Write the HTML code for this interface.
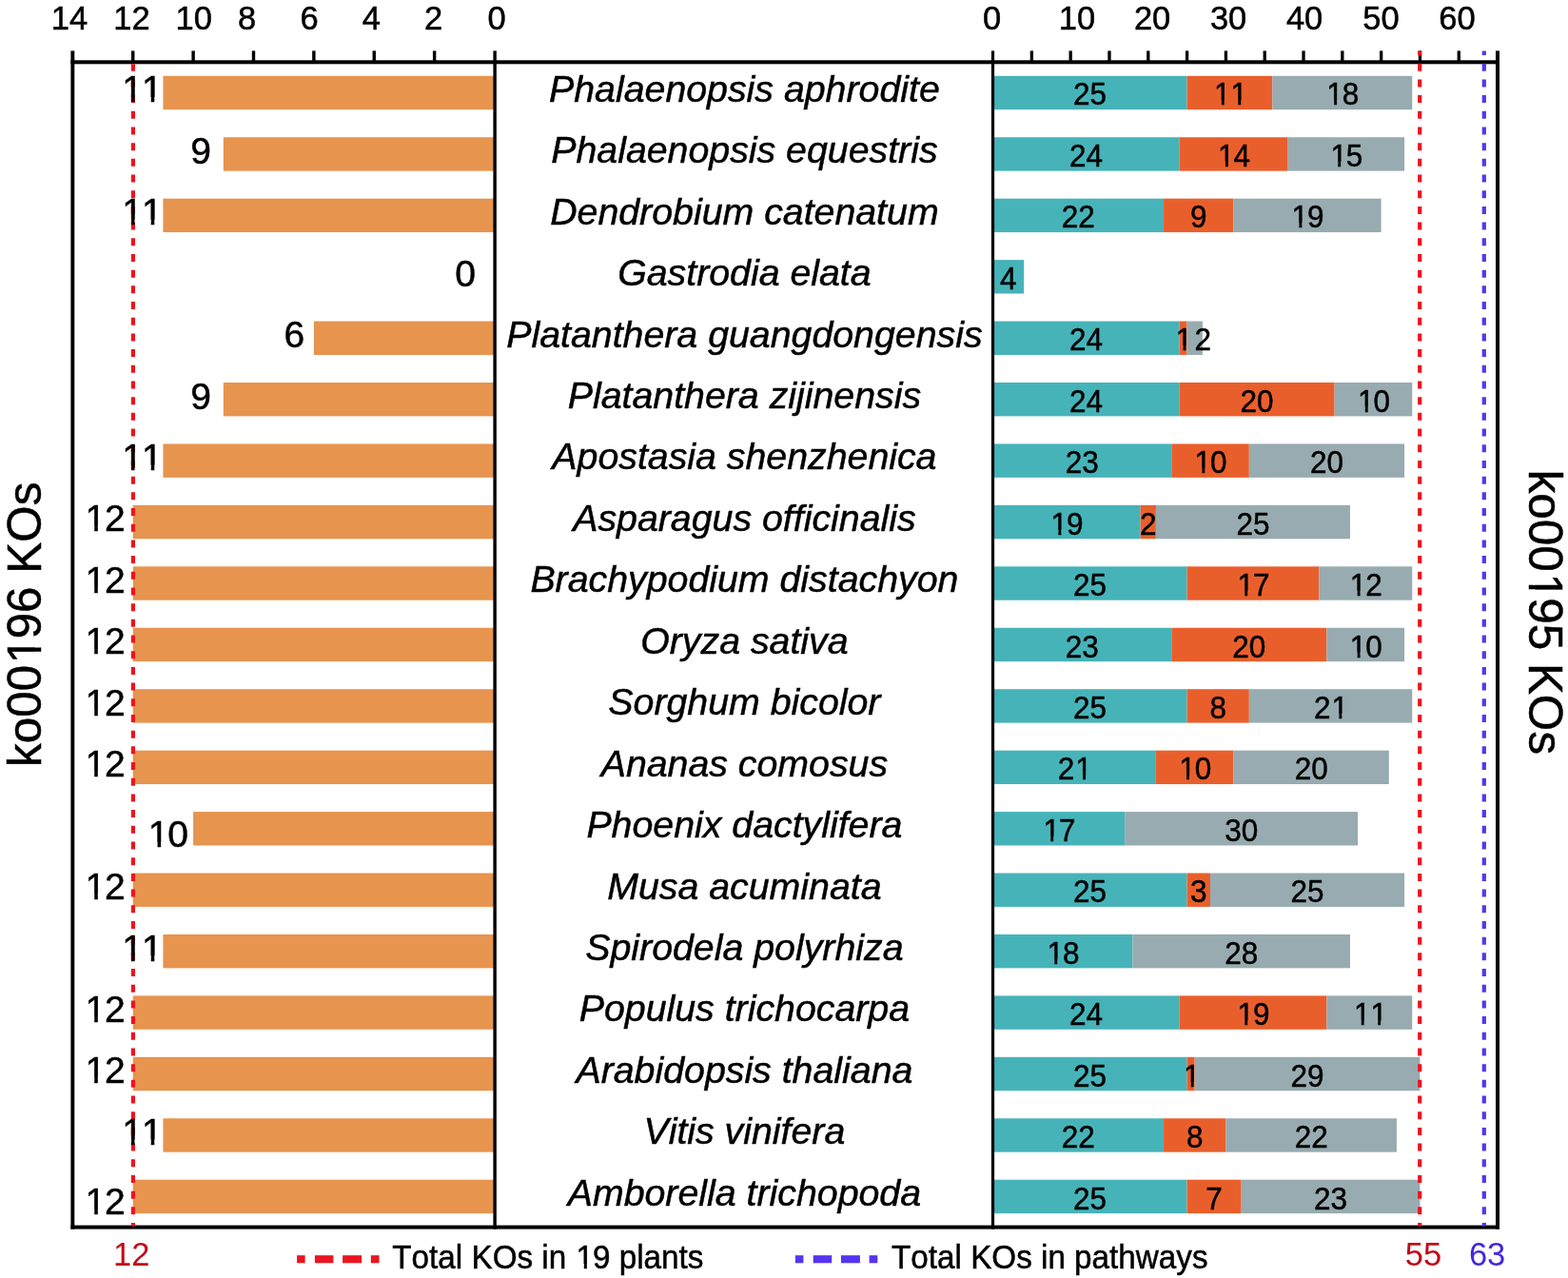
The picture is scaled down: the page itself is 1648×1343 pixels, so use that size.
<!DOCTYPE html>
<html><head><meta charset="utf-8"><title>KO chart</title>
<style>
html,body{margin:0;padding:0;background:#fff;}
svg{display:block;}
text{font-family:'Liberation Sans', Arial, sans-serif;fill:#000;stroke:#000;stroke-width:0.5px;font-kerning:none;}
.sp{font-style:italic;font-size:39.3px;}
.ll{font-size:39.0px;}
.bl{font-size:33.5px;}
.tk{font-size:34.5px;}
.ti{font-size:49.4px;}
.lg{font-size:35.0px;}
.bv{font-size:34.5px;stroke-width:0;}
</style></head>
<body>
<svg width="1648" height="1343" viewBox="0 0 1648 1343">
<defs><clipPath id="c1" clipPathUnits="userSpaceOnUse"><path clip-rule="evenodd" d="M-3000,-3000H5000V5000H-3000ZM-19.23,-5.00H-9.16V2.00H-19.23ZM-6.10,-5.00H9.45V2.00H-6.10ZM12.51,-5.00H19.22V2.00H12.51Z"/></clipPath>
<clipPath id="c2" clipPathUnits="userSpaceOnUse"><path clip-rule="evenodd" d="M-3000,-3000H5000V5000H-3000ZM-19.23,-5.00H-9.16V2.00H-19.23ZM-6.10,-5.00H0.60V2.00H-6.10Z"/></clipPath>
<clipPath id="c4" clipPathUnits="userSpaceOnUse"><path clip-rule="evenodd" d="M-3000,-3000H5000V5000H-3000ZM-19.23,-5.00H-9.16V2.00H-19.23ZM-6.10,-5.00H0.60V2.00H-6.10Z"/></clipPath>
<clipPath id="c5" clipPathUnits="userSpaceOnUse"><path clip-rule="evenodd" d="M-3000,-3000H5000V5000H-3000ZM-19.23,-5.00H-9.16V2.00H-19.23ZM-6.10,-5.00H0.60V2.00H-6.10Z"/></clipPath>
<clipPath id="c8" clipPathUnits="userSpaceOnUse"><path clip-rule="evenodd" d="M-3000,-3000H5000V5000H-3000ZM-19.23,-5.00H-9.16V2.00H-19.23ZM-6.10,-5.00H0.60V2.00H-6.10Z"/></clipPath>
<clipPath id="c11" clipPathUnits="userSpaceOnUse"><path clip-rule="evenodd" d="M-3000,-3000H5000V5000H-3000ZM-9.91,-5.00H0.16V2.00H-9.91ZM3.22,-5.00H9.92V2.00H3.22Z"/></clipPath>
<clipPath id="c15" clipPathUnits="userSpaceOnUse"><path clip-rule="evenodd" d="M-3000,-3000H5000V5000H-3000ZM-19.23,-5.00H-9.16V2.00H-19.23ZM-6.10,-5.00H0.60V2.00H-6.10Z"/></clipPath>
<clipPath id="c17" clipPathUnits="userSpaceOnUse"><path clip-rule="evenodd" d="M-3000,-3000H5000V5000H-3000ZM-19.23,-5.00H-9.16V2.00H-19.23ZM-6.10,-5.00H0.60V2.00H-6.10Z"/></clipPath>
<clipPath id="c19" clipPathUnits="userSpaceOnUse"><path clip-rule="evenodd" d="M-3000,-3000H5000V5000H-3000ZM-19.23,-5.00H-9.16V2.00H-19.23ZM-6.10,-5.00H0.60V2.00H-6.10Z"/></clipPath>
<clipPath id="c23" clipPathUnits="userSpaceOnUse"><path clip-rule="evenodd" d="M-3000,-3000H5000V5000H-3000ZM-19.23,-5.00H-9.16V2.00H-19.23ZM-6.10,-5.00H0.60V2.00H-6.10Z"/></clipPath>
<clipPath id="c24" clipPathUnits="userSpaceOnUse"><path clip-rule="evenodd" d="M-3000,-3000H5000V5000H-3000ZM-19.23,-5.00H-9.16V2.00H-19.23ZM-6.10,-5.00H0.60V2.00H-6.10Z"/></clipPath>
<clipPath id="c27" clipPathUnits="userSpaceOnUse"><path clip-rule="evenodd" d="M-3000,-3000H5000V5000H-3000ZM-19.23,-5.00H-9.16V2.00H-19.23ZM-6.10,-5.00H0.60V2.00H-6.10Z"/></clipPath>
<clipPath id="c30" clipPathUnits="userSpaceOnUse"><path clip-rule="evenodd" d="M-3000,-3000H5000V5000H-3000ZM-0.62,-5.00H9.45V2.00H-0.62ZM12.51,-5.00H19.22V2.00H12.51Z"/></clipPath>
<clipPath id="c31" clipPathUnits="userSpaceOnUse"><path clip-rule="evenodd" d="M-3000,-3000H5000V5000H-3000ZM-0.62,-5.00H9.45V2.00H-0.62ZM12.51,-5.00H19.22V2.00H12.51Z"/></clipPath>
<clipPath id="c32" clipPathUnits="userSpaceOnUse"><path clip-rule="evenodd" d="M-3000,-3000H5000V5000H-3000ZM-19.23,-5.00H-9.16V2.00H-19.23ZM-6.10,-5.00H0.60V2.00H-6.10Z"/></clipPath>
<clipPath id="c34" clipPathUnits="userSpaceOnUse"><path clip-rule="evenodd" d="M-3000,-3000H5000V5000H-3000ZM-19.23,-5.00H-9.16V2.00H-19.23ZM-6.10,-5.00H0.60V2.00H-6.10Z"/></clipPath>
<clipPath id="c39" clipPathUnits="userSpaceOnUse"><path clip-rule="evenodd" d="M-3000,-3000H5000V5000H-3000ZM-19.23,-5.00H-9.16V2.00H-19.23ZM-6.10,-5.00H0.60V2.00H-6.10Z"/></clipPath>
<clipPath id="c42" clipPathUnits="userSpaceOnUse"><path clip-rule="evenodd" d="M-3000,-3000H5000V5000H-3000ZM-19.23,-5.00H-9.16V2.00H-19.23ZM-6.10,-5.00H0.60V2.00H-6.10Z"/></clipPath>
<clipPath id="c43" clipPathUnits="userSpaceOnUse"><path clip-rule="evenodd" d="M-3000,-3000H5000V5000H-3000ZM-19.23,-5.00H-9.16V2.00H-19.23ZM-6.10,-5.00H9.45V2.00H-6.10ZM12.51,-5.00H19.22V2.00H12.51Z"/></clipPath>
<clipPath id="c45" clipPathUnits="userSpaceOnUse"><path clip-rule="evenodd" d="M-3000,-3000H5000V5000H-3000ZM-9.91,-5.00H0.16V2.00H-9.91ZM3.22,-5.00H9.92V2.00H3.22Z"/></clipPath>
<clipPath id="c53" clipPathUnits="userSpaceOnUse"><path clip-rule="evenodd" d="M-3000,-3000H5000V5000H-3000ZM126.31,101.99H137.94V109.40H126.31ZM141.49,101.99H158.73V109.40H141.49ZM162.28,101.99H169.99V109.40H162.28Z"/></clipPath>
<clipPath id="c55" clipPathUnits="userSpaceOnUse"><path clip-rule="evenodd" d="M-3000,-3000H5000V5000H-3000ZM126.31,230.87H137.94V238.28H126.31ZM141.49,230.87H158.73V238.28H141.49ZM162.28,230.87H169.99V238.28H162.28Z"/></clipPath>
<clipPath id="c59" clipPathUnits="userSpaceOnUse"><path clip-rule="evenodd" d="M-3000,-3000H5000V5000H-3000ZM126.31,488.63H137.94V496.04H126.31ZM141.49,488.63H158.73V496.04H141.49ZM162.28,488.63H169.99V496.04H162.28Z"/></clipPath>
<clipPath id="c60" clipPathUnits="userSpaceOnUse"><path clip-rule="evenodd" d="M-3000,-3000H5000V5000H-3000ZM87.61,553.07H99.24V560.48H87.61ZM102.79,553.07H110.50V560.48H102.79Z"/></clipPath>
<clipPath id="c61" clipPathUnits="userSpaceOnUse"><path clip-rule="evenodd" d="M-3000,-3000H5000V5000H-3000ZM87.61,617.51H99.24V624.92H87.61ZM102.79,617.51H110.50V624.92H102.79Z"/></clipPath>
<clipPath id="c62" clipPathUnits="userSpaceOnUse"><path clip-rule="evenodd" d="M-3000,-3000H5000V5000H-3000ZM87.61,681.95H99.24V689.36H87.61ZM102.79,681.95H110.50V689.36H102.79Z"/></clipPath>
<clipPath id="c63" clipPathUnits="userSpaceOnUse"><path clip-rule="evenodd" d="M-3000,-3000H5000V5000H-3000ZM87.61,746.39H99.24V753.80H87.61ZM102.79,746.39H110.50V753.80H102.79Z"/></clipPath>
<clipPath id="c64" clipPathUnits="userSpaceOnUse"><path clip-rule="evenodd" d="M-3000,-3000H5000V5000H-3000ZM87.61,810.83H99.24V818.24H87.61ZM102.79,810.83H110.50V818.24H102.79Z"/></clipPath>
<clipPath id="c65" clipPathUnits="userSpaceOnUse"><path clip-rule="evenodd" d="M-3000,-3000H5000V5000H-3000ZM153.91,884.79H165.54V892.20H153.91ZM169.09,884.79H176.80V892.20H169.09Z"/></clipPath>
<clipPath id="c66" clipPathUnits="userSpaceOnUse"><path clip-rule="evenodd" d="M-3000,-3000H5000V5000H-3000ZM87.61,939.71H99.24V947.12H87.61ZM102.79,939.71H110.50V947.12H102.79Z"/></clipPath>
<clipPath id="c67" clipPathUnits="userSpaceOnUse"><path clip-rule="evenodd" d="M-3000,-3000H5000V5000H-3000ZM126.31,1004.15H137.94V1011.56H126.31ZM141.49,1004.15H158.73V1011.56H141.49ZM162.28,1004.15H169.99V1011.56H162.28Z"/></clipPath>
<clipPath id="c68" clipPathUnits="userSpaceOnUse"><path clip-rule="evenodd" d="M-3000,-3000H5000V5000H-3000ZM87.61,1068.59H99.24V1076.00H87.61ZM102.79,1068.59H110.50V1076.00H102.79Z"/></clipPath>
<clipPath id="c69" clipPathUnits="userSpaceOnUse"><path clip-rule="evenodd" d="M-3000,-3000H5000V5000H-3000ZM87.61,1133.03H99.24V1140.44H87.61ZM102.79,1133.03H110.50V1140.44H102.79Z"/></clipPath>
<clipPath id="c70" clipPathUnits="userSpaceOnUse"><path clip-rule="evenodd" d="M-3000,-3000H5000V5000H-3000ZM126.31,1197.47H137.94V1204.88H126.31ZM141.49,1197.47H158.73V1204.88H141.49ZM162.28,1197.47H169.99V1204.88H162.28Z"/></clipPath>
<clipPath id="c71" clipPathUnits="userSpaceOnUse"><path clip-rule="evenodd" d="M-3000,-3000H5000V5000H-3000ZM87.61,1270.59H99.24V1278.00H87.61ZM102.79,1270.59H110.50V1278.00H102.79Z"/></clipPath>
<clipPath id="c106" clipPathUnits="userSpaceOnUse"><path clip-rule="evenodd" d="M-3000,-3000H5000V5000H-3000ZM-43.15,-6.19H-28.57V2.00H-43.15ZM-24.10,-6.19H-14.48V2.00H-24.10Z"/></clipPath>
<clipPath id="c107" clipPathUnits="userSpaceOnUse"><path clip-rule="evenodd" d="M-3000,-3000H5000V5000H-3000ZM-43.15,-6.19H-28.57V2.00H-43.15ZM-24.10,-6.19H-14.48V2.00H-24.10Z"/></clipPath>
<clipPath id="c108" clipPathUnits="userSpaceOnUse"><path clip-rule="evenodd" d="M-3000,-3000H5000V5000H-3000ZM201.63,-5.11H212.12V2.00H201.63ZM215.31,-5.11H222.29V2.00H215.31Z"/></clipPath></defs>
<rect width="1648" height="1343" fill="#fff"/>
<rect x="171.41" y="79.80" width="348.59" height="35.4" fill="#E6944E"/>
<rect x="1043.50" y="79.80" width="204.05" height="35.4" fill="#46B3B9"/>
<rect x="1247.55" y="79.80" width="89.78" height="35.4" fill="#E95F2C"/>
<rect x="1337.33" y="79.80" width="146.92" height="35.4" fill="#97ABB0"/>
<rect x="234.79" y="144.24" width="285.21" height="35.4" fill="#E6944E"/>
<rect x="1043.50" y="144.24" width="195.89" height="35.4" fill="#46B3B9"/>
<rect x="1239.39" y="144.24" width="114.27" height="35.4" fill="#E95F2C"/>
<rect x="1353.66" y="144.24" width="122.43" height="35.4" fill="#97ABB0"/>
<rect x="171.41" y="208.68" width="348.59" height="35.4" fill="#E6944E"/>
<rect x="1043.50" y="208.68" width="179.56" height="35.4" fill="#46B3B9"/>
<rect x="1223.06" y="208.68" width="73.46" height="35.4" fill="#E95F2C"/>
<rect x="1296.52" y="208.68" width="155.08" height="35.4" fill="#97ABB0"/>
<rect x="1043.50" y="273.12" width="32.65" height="35.4" fill="#46B3B9"/>
<rect x="329.86" y="337.56" width="190.14" height="35.4" fill="#E6944E"/>
<rect x="1043.50" y="337.56" width="195.89" height="35.4" fill="#46B3B9"/>
<rect x="1239.39" y="337.56" width="8.16" height="35.4" fill="#E95F2C"/>
<rect x="1247.55" y="337.56" width="16.32" height="35.4" fill="#97ABB0"/>
<rect x="234.79" y="402.00" width="285.21" height="35.4" fill="#E6944E"/>
<rect x="1043.50" y="402.00" width="195.89" height="35.4" fill="#46B3B9"/>
<rect x="1239.39" y="402.00" width="163.24" height="35.4" fill="#E95F2C"/>
<rect x="1402.63" y="402.00" width="81.62" height="35.4" fill="#97ABB0"/>
<rect x="171.41" y="466.44" width="348.59" height="35.4" fill="#E6944E"/>
<rect x="1043.50" y="466.44" width="187.73" height="35.4" fill="#46B3B9"/>
<rect x="1231.23" y="466.44" width="81.62" height="35.4" fill="#E95F2C"/>
<rect x="1312.85" y="466.44" width="163.24" height="35.4" fill="#97ABB0"/>
<rect x="139.72" y="530.88" width="380.28" height="35.4" fill="#E6944E"/>
<rect x="1043.50" y="530.88" width="155.08" height="35.4" fill="#46B3B9"/>
<rect x="1198.58" y="530.88" width="16.32" height="35.4" fill="#E95F2C"/>
<rect x="1214.90" y="530.88" width="204.05" height="35.4" fill="#97ABB0"/>
<rect x="139.72" y="595.32" width="380.28" height="35.4" fill="#E6944E"/>
<rect x="1043.50" y="595.32" width="204.05" height="35.4" fill="#46B3B9"/>
<rect x="1247.55" y="595.32" width="138.75" height="35.4" fill="#E95F2C"/>
<rect x="1386.30" y="595.32" width="97.94" height="35.4" fill="#97ABB0"/>
<rect x="139.72" y="659.76" width="380.28" height="35.4" fill="#E6944E"/>
<rect x="1043.50" y="659.76" width="187.73" height="35.4" fill="#46B3B9"/>
<rect x="1231.23" y="659.76" width="163.24" height="35.4" fill="#E95F2C"/>
<rect x="1394.47" y="659.76" width="81.62" height="35.4" fill="#97ABB0"/>
<rect x="139.72" y="724.20" width="380.28" height="35.4" fill="#E6944E"/>
<rect x="1043.50" y="724.20" width="204.05" height="35.4" fill="#46B3B9"/>
<rect x="1247.55" y="724.20" width="65.30" height="35.4" fill="#E95F2C"/>
<rect x="1312.85" y="724.20" width="171.40" height="35.4" fill="#97ABB0"/>
<rect x="139.72" y="788.64" width="380.28" height="35.4" fill="#E6944E"/>
<rect x="1043.50" y="788.64" width="171.40" height="35.4" fill="#46B3B9"/>
<rect x="1214.90" y="788.64" width="81.62" height="35.4" fill="#E95F2C"/>
<rect x="1296.52" y="788.64" width="163.24" height="35.4" fill="#97ABB0"/>
<rect x="203.10" y="853.08" width="316.90" height="35.4" fill="#E6944E"/>
<rect x="1043.50" y="853.08" width="138.75" height="35.4" fill="#46B3B9"/>
<rect x="1182.25" y="853.08" width="244.86" height="35.4" fill="#97ABB0"/>
<rect x="139.72" y="917.52" width="380.28" height="35.4" fill="#E6944E"/>
<rect x="1043.50" y="917.52" width="204.05" height="35.4" fill="#46B3B9"/>
<rect x="1247.55" y="917.52" width="24.49" height="35.4" fill="#E95F2C"/>
<rect x="1272.04" y="917.52" width="204.05" height="35.4" fill="#97ABB0"/>
<rect x="171.41" y="981.96" width="348.59" height="35.4" fill="#E6944E"/>
<rect x="1043.50" y="981.96" width="146.92" height="35.4" fill="#46B3B9"/>
<rect x="1190.42" y="981.96" width="228.54" height="35.4" fill="#97ABB0"/>
<rect x="139.72" y="1046.40" width="380.28" height="35.4" fill="#E6944E"/>
<rect x="1043.50" y="1046.40" width="195.89" height="35.4" fill="#46B3B9"/>
<rect x="1239.39" y="1046.40" width="155.08" height="35.4" fill="#E95F2C"/>
<rect x="1394.47" y="1046.40" width="89.78" height="35.4" fill="#97ABB0"/>
<rect x="139.72" y="1110.84" width="380.28" height="35.4" fill="#E6944E"/>
<rect x="1043.50" y="1110.84" width="204.05" height="35.4" fill="#46B3B9"/>
<rect x="1247.55" y="1110.84" width="8.16" height="35.4" fill="#E95F2C"/>
<rect x="1255.71" y="1110.84" width="236.70" height="35.4" fill="#97ABB0"/>
<rect x="171.41" y="1175.28" width="348.59" height="35.4" fill="#E6944E"/>
<rect x="1043.50" y="1175.28" width="179.56" height="35.4" fill="#46B3B9"/>
<rect x="1223.06" y="1175.28" width="65.30" height="35.4" fill="#E95F2C"/>
<rect x="1288.36" y="1175.28" width="179.56" height="35.4" fill="#97ABB0"/>
<rect x="139.72" y="1239.72" width="380.28" height="35.4" fill="#E6944E"/>
<rect x="1043.50" y="1239.72" width="204.05" height="35.4" fill="#46B3B9"/>
<rect x="1247.55" y="1239.72" width="57.13" height="35.4" fill="#E95F2C"/>
<rect x="1304.68" y="1239.72" width="187.73" height="35.4" fill="#97ABB0"/>
<rect x="74.4" y="63.3" width="1501.6" height="4" fill="#000"/>
<rect x="74.4" y="1287.6" width="1501.6" height="4" fill="#000"/>
<rect x="74.4" y="53.4" width="3.9" height="1238.2" fill="#000"/>
<rect x="1572.0" y="53.4" width="4" height="1238.2" fill="#000"/>
<rect x="518.4" y="53.4" width="3.4" height="1238.2" fill="#000"/>
<rect x="1041.9" y="53.4" width="3.2" height="1238.2" fill="#000"/>
<rect x="138.02" y="53.4" width="3.4" height="11" fill="#000"/>
<rect x="201.40" y="53.4" width="3.4" height="11" fill="#000"/>
<rect x="264.78" y="53.4" width="3.4" height="11" fill="#000"/>
<rect x="328.16" y="53.4" width="3.4" height="11" fill="#000"/>
<rect x="391.54" y="53.4" width="3.4" height="11" fill="#000"/>
<rect x="454.92" y="53.4" width="3.4" height="11" fill="#000"/>
<rect x="1082.71" y="53.4" width="3.3" height="11" fill="#000"/>
<rect x="1123.52" y="53.4" width="3.3" height="11" fill="#000"/>
<rect x="1164.33" y="53.4" width="3.3" height="11" fill="#000"/>
<rect x="1205.14" y="53.4" width="3.3" height="11" fill="#000"/>
<rect x="1245.95" y="53.4" width="3.3" height="11" fill="#000"/>
<rect x="1286.76" y="53.4" width="3.3" height="11" fill="#000"/>
<rect x="1327.57" y="53.4" width="3.3" height="11" fill="#000"/>
<rect x="1368.38" y="53.4" width="3.3" height="11" fill="#000"/>
<rect x="1409.19" y="53.4" width="3.3" height="11" fill="#000"/>
<rect x="1450.00" y="53.4" width="3.3" height="11" fill="#000"/>
<rect x="1490.81" y="53.4" width="3.3" height="11" fill="#000"/>
<rect x="1531.62" y="53.4" width="3.3" height="11" fill="#000"/>
<line x1="139.9" y1="67.3" x2="139.9" y2="1288.5" stroke="#EA1520" stroke-width="4.2" stroke-dasharray="8 8.69" stroke-dashoffset="0.61"/>
<line x1="1492.2" y1="53.4" x2="1492.2" y2="1288.5" stroke="#EA1520" stroke-width="4.2" stroke-dasharray="8 8.69" stroke-dashoffset="3.40"/>
<line x1="1559.8" y1="53.4" x2="1559.8" y2="1288.5" stroke="#5634F0" stroke-width="4.2" stroke-dasharray="8 8.69" stroke-dashoffset="3.40"/>
<rect x="312.10" y="1319.2" width="8.5" height="8.1" fill="#EA1520"/>
<rect x="330.90" y="1319.2" width="19.5" height="8.1" fill="#EA1520"/>
<rect x="360.10" y="1319.2" width="20" height="8.1" fill="#EA1520"/>
<rect x="389.80" y="1319.2" width="8.7" height="8.1" fill="#EA1520"/>
<rect x="835.90" y="1319.2" width="8.5" height="8.1" fill="#5634F0"/>
<rect x="854.70" y="1319.2" width="19.5" height="8.1" fill="#5634F0"/>
<rect x="883.90" y="1319.2" width="20" height="8.1" fill="#5634F0"/>
<rect x="913.60" y="1319.2" width="8.7" height="8.1" fill="#5634F0"/>
<text class="bl" text-anchor="middle" transform="translate(1145.53,110.20) scale(0.94,1)">25</text>
<text class="bl" x="-18.63" y="0" dx="1.10 0.00" transform="translate(1292.44,110.20) scale(0.94,1)" clip-path="url(#c1)">11</text>
<text class="bl" x="-18.63" y="0" dx="1.10 -1.10" transform="translate(1410.79,110.20) scale(0.94,1)" clip-path="url(#c2)">18</text>
<text class="bl" text-anchor="middle" transform="translate(1141.44,174.68) scale(0.94,1)">24</text>
<text class="bl" x="-18.63" y="0" dx="1.10 -1.10" transform="translate(1296.52,174.68) scale(0.94,1)" clip-path="url(#c4)">14</text>
<text class="bl" x="-18.63" y="0" dx="1.10 -1.10" transform="translate(1414.87,174.68) scale(0.94,1)" clip-path="url(#c5)">15</text>
<text class="bl" text-anchor="middle" transform="translate(1133.28,239.16) scale(0.94,1)">22</text>
<text class="bl" text-anchor="middle" transform="translate(1259.79,239.16) scale(0.94,1)">9</text>
<text class="bl" x="-18.63" y="0" dx="1.10 -1.10" transform="translate(1374.06,239.16) scale(0.94,1)" clip-path="url(#c8)">19</text>
<text class="bl" text-anchor="middle" transform="translate(1059.82,303.64) scale(0.94,1)">4</text>
<text class="bl" text-anchor="middle" transform="translate(1141.44,368.12) scale(0.94,1)">24</text>
<text class="bl" x="-9.31" y="0" dx="1.10" transform="translate(1243.47,368.12) scale(0.94,1)" clip-path="url(#c11)">1</text>
<text class="bl" text-anchor="middle" transform="translate(1264.30,368.12) scale(0.94,1)">2</text>
<text class="bl" text-anchor="middle" transform="translate(1141.44,432.60) scale(0.94,1)">24</text>
<text class="bl" text-anchor="middle" transform="translate(1321.01,432.60) scale(0.94,1)">20</text>
<text class="bl" x="-18.63" y="0" dx="1.10 -1.10" transform="translate(1443.44,432.60) scale(0.94,1)" clip-path="url(#c15)">10</text>
<text class="bl" text-anchor="middle" transform="translate(1137.36,497.08) scale(0.94,1)">23</text>
<text class="bl" x="-18.63" y="0" dx="1.10 -1.10" transform="translate(1272.04,497.08) scale(0.94,1)" clip-path="url(#c17)">10</text>
<text class="bl" text-anchor="middle" transform="translate(1394.47,497.08) scale(0.94,1)">20</text>
<text class="bl" x="-18.63" y="0" dx="1.10 -1.10" transform="translate(1121.04,561.56) scale(0.94,1)" clip-path="url(#c19)">19</text>
<text class="bl" text-anchor="middle" transform="translate(1206.74,561.56) scale(0.94,1)">2</text>
<text class="bl" text-anchor="middle" transform="translate(1316.93,561.56) scale(0.94,1)">25</text>
<text class="bl" text-anchor="middle" transform="translate(1145.53,626.04) scale(0.94,1)">25</text>
<text class="bl" x="-18.63" y="0" dx="1.10 -1.10" transform="translate(1316.93,626.04) scale(0.94,1)" clip-path="url(#c23)">17</text>
<text class="bl" x="-18.63" y="0" dx="1.10 -1.10" transform="translate(1435.28,626.04) scale(0.94,1)" clip-path="url(#c24)">12</text>
<text class="bl" text-anchor="middle" transform="translate(1137.36,690.52) scale(0.94,1)">23</text>
<text class="bl" text-anchor="middle" transform="translate(1312.85,690.52) scale(0.94,1)">20</text>
<text class="bl" x="-18.63" y="0" dx="1.10 -1.10" transform="translate(1435.28,690.52) scale(0.94,1)" clip-path="url(#c27)">10</text>
<text class="bl" text-anchor="middle" transform="translate(1145.53,755.00) scale(0.94,1)">25</text>
<text class="bl" text-anchor="middle" transform="translate(1280.20,755.00) scale(0.94,1)">8</text>
<text class="bl" x="-18.63" y="0" dx="0.00 1.10" transform="translate(1398.55,755.00) scale(0.94,1)" clip-path="url(#c30)">21</text>
<text class="bl" x="-18.63" y="0" dx="0.00 1.10" transform="translate(1129.20,819.48) scale(0.94,1)" clip-path="url(#c31)">21</text>
<text class="bl" x="-18.63" y="0" dx="1.10 -1.10" transform="translate(1255.71,819.48) scale(0.94,1)" clip-path="url(#c32)">10</text>
<text class="bl" text-anchor="middle" transform="translate(1378.14,819.48) scale(0.94,1)">20</text>
<text class="bl" x="-18.63" y="0" dx="1.10 -1.10" transform="translate(1112.88,883.96) scale(0.94,1)" clip-path="url(#c34)">17</text>
<text class="bl" text-anchor="middle" transform="translate(1304.68,883.96) scale(0.94,1)">30</text>
<text class="bl" text-anchor="middle" transform="translate(1145.53,948.44) scale(0.94,1)">25</text>
<text class="bl" text-anchor="middle" transform="translate(1259.79,948.44) scale(0.94,1)">3</text>
<text class="bl" text-anchor="middle" transform="translate(1374.06,948.44) scale(0.94,1)">25</text>
<text class="bl" x="-18.63" y="0" dx="1.10 -1.10" transform="translate(1116.96,1012.92) scale(0.94,1)" clip-path="url(#c39)">18</text>
<text class="bl" text-anchor="middle" transform="translate(1304.68,1012.92) scale(0.94,1)">28</text>
<text class="bl" text-anchor="middle" transform="translate(1141.44,1077.40) scale(0.94,1)">24</text>
<text class="bl" x="-18.63" y="0" dx="1.10 -1.10" transform="translate(1316.93,1077.40) scale(0.94,1)" clip-path="url(#c42)">19</text>
<text class="bl" x="-18.63" y="0" dx="1.10 0.00" transform="translate(1439.36,1077.40) scale(0.94,1)" clip-path="url(#c43)">11</text>
<text class="bl" text-anchor="middle" transform="translate(1145.53,1141.88) scale(0.94,1)">25</text>
<text class="bl" x="-9.31" y="0" dx="1.10" transform="translate(1251.63,1141.88) scale(0.94,1)" clip-path="url(#c45)">1</text>
<text class="bl" text-anchor="middle" transform="translate(1374.06,1141.88) scale(0.94,1)">29</text>
<text class="bl" text-anchor="middle" transform="translate(1133.28,1206.36) scale(0.94,1)">22</text>
<text class="bl" text-anchor="middle" transform="translate(1255.71,1206.36) scale(0.94,1)">8</text>
<text class="bl" text-anchor="middle" transform="translate(1378.14,1206.36) scale(0.94,1)">22</text>
<text class="bl" text-anchor="middle" transform="translate(1145.53,1270.84) scale(0.94,1)">25</text>
<text class="bl" text-anchor="middle" transform="translate(1276.12,1270.84) scale(0.94,1)">7</text>
<text class="bl" text-anchor="middle" transform="translate(1398.55,1270.84) scale(0.94,1)">23</text>
<text class="ll" x="126.01" y="107.40" dx="2.18 -0.90" clip-path="url(#c53)">11</text>
<text class="ll" x="221.90" y="171.84" text-anchor="end">9</text>
<text class="ll" x="126.01" y="236.28" dx="2.18 -0.90" clip-path="url(#c55)">11</text>
<text class="ll" x="499.90" y="300.72" text-anchor="end">0</text>
<text class="ll" x="320.30" y="365.16" text-anchor="end">6</text>
<text class="ll" x="221.90" y="429.60" text-anchor="end">9</text>
<text class="ll" x="126.01" y="494.04" dx="2.18 -0.90" clip-path="url(#c59)">11</text>
<text class="ll" x="88.21" y="558.48" dx="1.28 -1.28" clip-path="url(#c60)">12</text>
<text class="ll" x="88.21" y="622.92" dx="1.28 -1.28" clip-path="url(#c61)">12</text>
<text class="ll" x="88.21" y="687.36" dx="1.28 -1.28" clip-path="url(#c62)">12</text>
<text class="ll" x="88.21" y="751.80" dx="1.28 -1.28" clip-path="url(#c63)">12</text>
<text class="ll" x="88.21" y="816.24" dx="1.28 -1.28" clip-path="url(#c64)">12</text>
<text class="ll" x="154.51" y="890.20" dx="1.28 -1.28" clip-path="url(#c65)">10</text>
<text class="ll" x="88.21" y="945.12" dx="1.28 -1.28" clip-path="url(#c66)">12</text>
<text class="ll" x="126.01" y="1009.56" dx="2.18 -0.90" clip-path="url(#c67)">11</text>
<text class="ll" x="88.21" y="1074.00" dx="1.28 -1.28" clip-path="url(#c68)">12</text>
<text class="ll" x="88.21" y="1138.44" dx="1.28 -1.28" clip-path="url(#c69)">12</text>
<text class="ll" x="126.01" y="1202.88" dx="2.18 -0.90" clip-path="url(#c70)">11</text>
<text class="ll" x="88.21" y="1276.00" dx="1.28 -1.28" clip-path="url(#c71)">12</text>
<text class="sp" x="782.40" y="106.80" text-anchor="middle">Phalaenopsis aphrodite</text>
<text class="sp" x="782.40" y="171.24" text-anchor="middle">Phalaenopsis equestris</text>
<text class="sp" x="782.40" y="235.68" text-anchor="middle">Dendrobium catenatum</text>
<text class="sp" x="782.40" y="300.12" text-anchor="middle">Gastrodia elata</text>
<text class="sp" x="782.40" y="364.56" text-anchor="middle">Platanthera guangdongensis</text>
<text class="sp" x="782.40" y="429.00" text-anchor="middle">Platanthera zijinensis</text>
<text class="sp" x="782.40" y="493.44" text-anchor="middle">Apostasia shenzhenica</text>
<text class="sp" x="782.40" y="557.88" text-anchor="middle">Asparagus officinalis</text>
<text class="sp" x="782.40" y="622.32" text-anchor="middle">Brachypodium distachyon</text>
<text class="sp" x="782.40" y="686.76" text-anchor="middle">Oryza sativa</text>
<text class="sp" x="782.40" y="751.20" text-anchor="middle">Sorghum bicolor</text>
<text class="sp" x="782.40" y="815.64" text-anchor="middle">Ananas comosus</text>
<text class="sp" x="782.40" y="880.08" text-anchor="middle">Phoenix dactylifera</text>
<text class="sp" x="782.40" y="944.52" text-anchor="middle">Musa acuminata</text>
<text class="sp" x="782.40" y="1008.96" text-anchor="middle">Spirodela polyrhiza</text>
<text class="sp" x="782.40" y="1073.40" text-anchor="middle">Populus trichocarpa</text>
<text class="sp" x="782.40" y="1137.84" text-anchor="middle">Arabidopsis thaliana</text>
<text class="sp" x="782.40" y="1202.28" text-anchor="middle">Vitis vinifera</text>
<text class="sp" x="782.40" y="1266.72" text-anchor="middle">Amborella trichopoda</text>
<text class="tk" x="72.90" y="30.80" text-anchor="middle">14</text>
<text class="tk" x="138.50" y="30.80" text-anchor="middle">12</text>
<text class="tk" x="203.70" y="30.80" text-anchor="middle">10</text>
<text class="tk" x="259.50" y="30.80" text-anchor="middle">8</text>
<text class="tk" x="325.00" y="30.80" text-anchor="middle">6</text>
<text class="tk" x="390.30" y="30.80" text-anchor="middle">4</text>
<text class="tk" x="455.60" y="30.80" text-anchor="middle">2</text>
<text class="tk" x="522.00" y="30.80" text-anchor="middle">0</text>
<text class="tk" x="1042.60" y="30.80" text-anchor="middle">0</text>
<text class="tk" x="1132.00" y="30.80" text-anchor="middle">10</text>
<text class="tk" x="1211.10" y="30.80" text-anchor="middle">20</text>
<text class="tk" x="1291.10" y="30.80" text-anchor="middle">30</text>
<text class="tk" x="1371.10" y="30.80" text-anchor="middle">40</text>
<text class="tk" x="1451.40" y="30.80" text-anchor="middle">50</text>
<text class="tk" x="1531.50" y="30.80" text-anchor="middle">60</text>
<text class="ti" x="-149.65" y="0" dx="0.00 0.00 0.00 0.00 1.62 -1.62 0.00 0.00 0.00 0.00 0.00" transform="translate(43.10,656.30) rotate(-90)" clip-path="url(#c106)">ko00196 KOs</text>
<text class="ti" x="-149.65" y="0" dx="0.00 0.00 0.00 0.00 1.62 -1.62 0.00 0.00 0.00 0.00 0.00" transform="translate(1607.10,643.30) rotate(90)" clip-path="url(#c107)">ko00195 KOs</text>
<text class="lg" x="0.00" y="0" dx="0.00 0.00 0.00 0.00 0.00 0.00 0.00 0.00 0.00 0.00 0.00 0.00 0.00 1.15 -1.15 0.00 0.00 0.00 0.00 0.00 0.00 0.00" transform="translate(412.30,1333.10) scale(0.95,1)" clip-path="url(#c108)">Total KOs in 19 plants</text>
<text class="lg" text-anchor="start" transform="translate(937.00,1333.10) scale(0.95,1)">Total KOs in pathways</text>
<text class="bv" x="138.30" y="1330.00" text-anchor="middle" style="fill:#C00A18;stroke:#C00A18">12</text>
<text class="bv" x="1495.90" y="1329.70" text-anchor="middle" style="fill:#C00A18;stroke:#C00A18">55</text>
<text class="bv" x="1563.10" y="1329.70" text-anchor="middle" style="fill:#4626DA;stroke:#4626DA">63</text>
</svg>
</body></html>
